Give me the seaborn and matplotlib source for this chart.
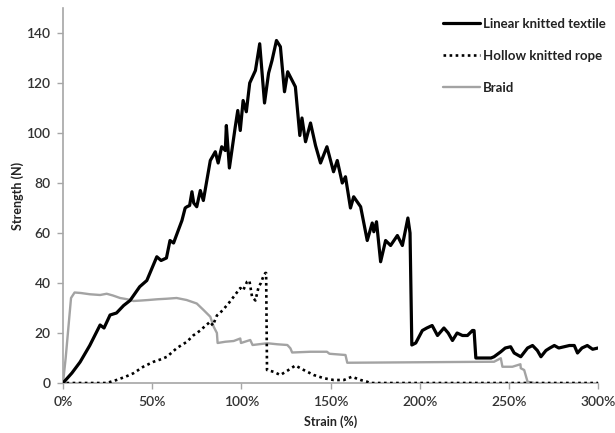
import matplotlib
matplotlib.use("Agg")
import matplotlib.pyplot as plt
import seaborn as sns
import pandas as pd

# ---- data (strain %, strength N) ----
lin_x = [0, 5, 9.6, 15, 20.8, 23, 26.4, 30, 34, 37.6, 43, 47, 52.6, 55, 58, 60, 62, 64.6, 66.7, 68.5,
         69.5, 71, 72.3, 73.3, 75, 77, 78.7, 82.6, 85.4, 87, 89, 91, 91.6, 93.3, 96.6, 98, 99.4, 101, 102.8, 104.7,
         107.9, 110.3, 113, 115.3, 117.2, 119.7, 121.9, 124.2, 126, 130.3, 132.8, 134, 136, 138.8, 141.6, 144.4,
         148, 151.7, 153.8, 156.6, 158.4, 161.2, 163, 166.9, 170.6, 173.4, 174.3, 175.8, 178.1, 180.9, 183.7,
         187.5, 190.3, 193.4, 194.6, 195.6, 197.8, 201.5, 204, 207, 210, 213.6, 216, 218.4, 221, 224, 226.8,
         229.6, 230.5, 231.5, 236, 240, 241.7, 245.5, 248, 251, 253, 256.7, 260.5, 263.3, 266, 268, 270.8, 273,
         275.5, 278, 281, 284, 286.7, 288.5, 291, 294, 297, 300]
lin_y = [0, 4, 8.4, 15, 23.2, 22, 27.2, 28, 31, 33, 38.5, 41, 50.5, 49, 50, 57, 56, 61, 65, 70,
         70.5, 71, 76.5, 72, 70.5, 77, 73, 89, 92.5, 88, 94.5, 93, 103, 86, 102.5, 109, 101, 113, 108.5, 120,
         125, 135.7, 112, 124, 129, 137, 134.5, 116.5, 124.5, 118.5, 99, 106, 96.5, 104, 95, 88,
         94.5, 84.5, 89, 80, 82.5, 70, 74.5, 70.5, 57, 64, 60.5, 64.5, 48.5, 57, 55,
         59, 55, 66, 60, 15.2, 16, 21, 22, 23, 19, 22, 20, 17, 20, 19, 19,
         21, 21, 10, 10, 10, 10.5, 12.5, 14, 14.5, 12, 10.5, 14, 15, 13, 10.5, 13,
         14, 15, 14, 14.5, 15, 15, 12, 14, 15, 13.5, 14]

hol_x = [2, 5, 11.4, 18, 24.5, 30, 35, 39.5, 45, 50.8, 55, 58.3, 63.9, 69.5, 73, 77, 80, 82.6, 84, 86.3,
         88, 90, 93, 95.7, 99.4, 101, 103.2, 104.5, 106, 107.9, 109.7, 111, 112.5, 113.5, 113.9, 114.4, 118,
         121.9, 126, 130.3, 135, 140.6, 146.3, 151.8, 157.5, 162, 166.9, 170.6, 172, 200, 250, 300]
hol_y = [0, 0, 0, 0, 0, 1.2, 2.5, 3.9, 6.5, 8.5, 9.5, 10.5, 14, 16.5, 19, 21, 23, 24.5, 23, 27,
         28, 29.5, 32, 34.5, 38, 37, 40.5, 41, 34.5, 33, 38.5, 40, 43, 44, 44, 5.2, 4.5,
         3.2, 5, 7, 5.2, 3.2, 1.9, 1.2, 1.2, 2.5, 1.2, 0.5, 0, 0, 0, 0]

br_x = [0, 1.5, 4.5, 6.5, 10, 15, 20.8, 24.5, 28, 32, 36, 39.5, 44, 47.9, 53, 58, 63.7, 69.3, 75, 78.8,
        82.6, 84.5, 86.3, 86.7, 91, 95.7, 99.4, 99.8, 105, 106.3, 114.6, 120, 125.8, 127.5, 128.5, 138.8,
        148, 149.4, 158.4, 159.4, 180, 200, 220, 241.7, 245.5, 246.4, 252, 256.5, 256.7, 258.6, 260.5, 264.2]
br_y = [0, 10, 34, 36.2, 36, 35.5, 35.2, 35.7, 35, 34, 33.5, 32.8, 33, 33.2, 33.5, 33.7, 34, 33.2, 31.8, 29.2,
        26.5, 22.5, 20, 16, 16.5, 16.8, 17.8, 16, 17.2, 15.2, 15.9, 15.5, 15.2, 13.9, 12.2, 12.5,
        12.5, 11.7, 11.2, 8.1, 8.2, 8.3, 8.4, 8.5, 9.9, 6.5, 6.5, 7.5, 5.9, 5.2, 0.5, 0]

series_names = ["Linear knitted textile", "Hollow knitted rope", "Braid"]
x_ticks = [0, 50, 100, 150, 200, 250, 300]
x_tick_labels = ["0%", "50%", "100%", "150%", "200%", "250%", "300%"]
y_ticks = [0, 20, 40, 60, 80, 100, 120, 140]

# ---- plot ----
sns.set_style("white")
plt.rcParams["font.family"] = ["Lato", "DejaVu Sans"]

fig = plt.figure(figsize=(6.15, 4.33), dpi=100)
ax = fig.add_axes([63 / 615, 1 - 383 / 433, (598 - 63) / 615, (383 - 8) / 433])

df_lin = pd.DataFrame({"x": lin_x, "y": lin_y})
df_hol = pd.DataFrame({"x": hol_x, "y": hol_y})
df_br = pd.DataFrame({"x": br_x, "y": br_y})

sns.lineplot(data=df_br, x="x", y="y", ax=ax, sort=False, estimator=None,
             color="#a3a3a3", lw=1.7, label=series_names[2], zorder=2)
sns.lineplot(data=df_hol, x="x", y="y", ax=ax, sort=False, estimator=None,
             color="black", lw=1.9, label=series_names[1], zorder=3)
sns.lineplot(data=df_lin, x="x", y="y", ax=ax, sort=False, estimator=None,
             color="black", lw=2.3, label=series_names[0], zorder=4)
ax.lines[1].set_linestyle((0, (1.0, 1.3)))

ax.set_xlim(0, 300)
ax.set_ylim(0, 150)
ax.set_xticks(x_ticks)
ax.set_xticklabels(x_tick_labels)
ax.set_yticks(y_ticks)
ax.tick_params(axis="both", which="both", direction="out", length=4, width=1, color="#a6a6a6",
               labelsize=10, labelcolor="#333333", bottom=True, left=True, pad=5)
for lab in ax.get_xticklabels() + ax.get_yticklabels():
    lab.set_fontweight("semibold")

for s in ["top", "right"]:
    ax.spines[s].set_visible(False)
for s in ["left", "bottom"]:
    ax.spines[s].set_color("#a6a6a6")
    ax.spines[s].set_linewidth(1.2)

ax.set_xlabel("Strain (%)", fontsize=9, fontweight="bold", color="#222222")
ax.set_ylabel("Strength (N)", fontsize=9, fontweight="bold", color="#222222")
ax.xaxis.set_label_coords(0.5, -(422 - 383) / 375, transform=ax.transAxes)
ax.yaxis.set_label_coords(-(63 - 18) / 535, 0.5, transform=ax.transAxes)
ax.xaxis.label.set_va("center")
ax.yaxis.label.set_va("center")

handles, labels = ax.get_legend_handles_labels()
order = [labels.index(n) for n in series_names]
leg = ax.legend([handles[i] for i in order], [labels[i] for i in order],
                loc="upper left", bbox_to_anchor=(443 / 615, 1 - 18 / 433),
                bbox_transform=fig.transFigure, frameon=False,
                borderpad=0, borderaxespad=0,
                handlelength=2.8, handletextpad=0.25, labelspacing=1.5,
                prop={"size": 9.5, "weight": "bold"})
for t in leg.get_texts():
    t.set_color("#222222")

fig.savefig("out.png", dpi=100)
